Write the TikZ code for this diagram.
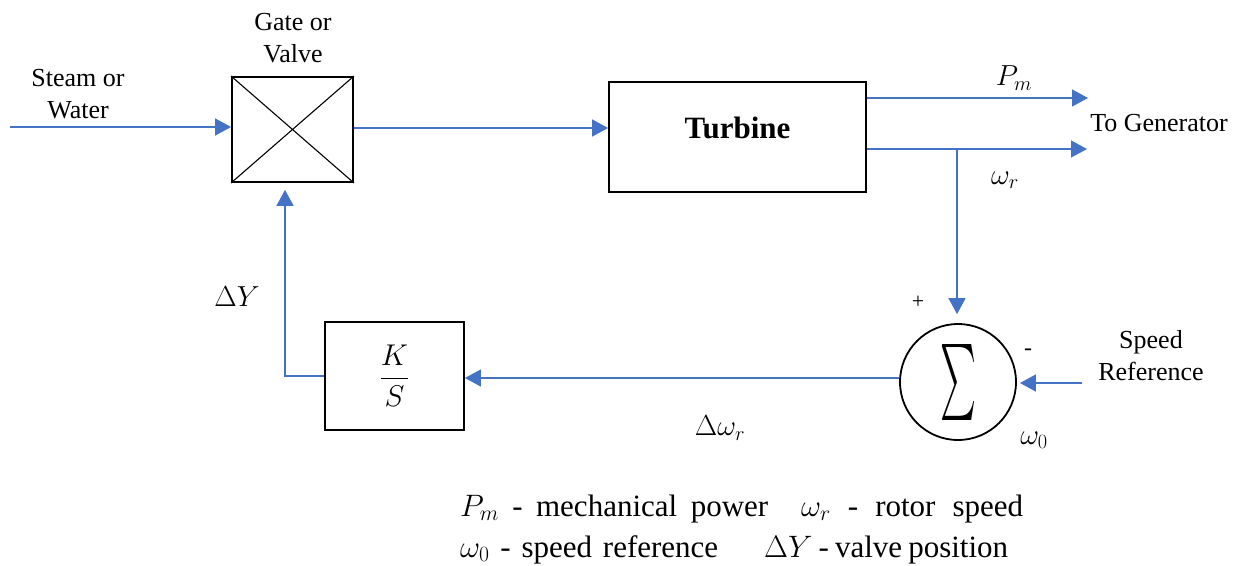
\RequirePackage{fix-cm}
\documentclass[tikz,border=0pt]{standalone}
\usepackage{fontspec}
\setmainfont{Liberation Serif}
\usepackage{graphicx}
\usetikzlibrary{arrows.meta}
\definecolor{lineblue}{HTML}{4472C4}
\begin{document}
\begin{tikzpicture}[x=1pt,y=-1pt,
  blk/.style={draw=black,line width=1.8pt,inner sep=0pt,rectangle},
  conn/.style={draw=lineblue,line width=1.3pt},
  arr/.style={conn,-{Triangle[length=16pt,width=17pt]}},
  lbl/.style={font=\fontsize{26}{32}\selectfont,align=center,inner sep=0pt},
  mlbl/.style={font=\fontsize{29}{32}\selectfont,inner sep=0pt},
  leg/.style={font=\fontsize{31}{38}\selectfont,inner sep=0pt,anchor=base west}]
\useasboundingbox[fill=white] (0,0) rectangle (1246,565);
% blocks
\node[blk,minimum width=121pt,minimum height=105pt] (valve) at (292.5,129.5) {};
\draw[line width=1.1pt] (valve.north west) -- (valve.south east) (valve.north east) -- (valve.south west);
\node[blk,minimum width=257pt,minimum height=110pt] (turb) at (737.5,137) {\raisebox{18pt}{\bfseries\fontsize{31}{36}\selectfont Turbine}};
\node[blk,minimum width=139pt,minimum height=108pt] (ks) at (394.5,376) {\fontsize{30}{34}\selectfont$\displaystyle\frac{K}{S}$};
\node[circle,draw=black,line width=1.8pt,minimum size=116pt,inner sep=0pt] (sum) at (958,382) {\raisebox{-3pt}{\resizebox{36pt}{57pt}{$\sum$}}};
% coordinates
\coordinate (in) at (10,127);
\coordinate (pmE) at (1088,98);
\coordinate (wrE) at (1087,149);
\coordinate (br) at (957,149);
\coordinate (sr) at (1082,383);
\coordinate (c1) at (285,376);
% connectors
\draw[arr] (in) -- (in -| valve.west);
\draw[arr] (valve.east) ++(0,-1.5) coordinate (ve) -- (ve -| turb.west);
\draw[arr] (turb.east |- pmE) -- (pmE);
\draw[arr] (turb.east |- wrE) -- (wrE);
\draw[arr,shorten >=9pt] (br) -- (br |- sum.north);
\draw[arr,shorten >=3pt] (sr) -- (sr -| sum.east);
\draw[arr] (sum.west) ++(0,-4) coordinate (sw) -- (sw -| ks.east);
\draw[arr,shorten >=7pt] (ks.west) -- (c1) -- (c1 |- valve.south);
% labels
\node[lbl] (steam) at (78,94) {Steam or\\Water};
\node[lbl] (gate) at (293,38) {Gate or\\Valve};
\node[lbl] (togen) at (1159,123) {To Generator};
\node[lbl] (sref) at (1151,356) {Speed\\Reference};
\node[mlbl] (pm) at (1014,78) {$P_m$};
\node[mlbl] (wr) at (1005,180) {$\omega_r$};
\node[mlbl] (w0) at (1034,440) {$\omega_0$};
\node[mlbl] (dy) at (237,297) {$\Delta Y$};
\node[mlbl] (dwr) at (720,428) {$\Delta\omega_r$};
\node[font=\fontsize{22}{24}\selectfont,inner sep=0pt] (plus) at (918,302) {+};
\node[font=\fontsize{24}{26}\selectfont,inner sep=0pt] (minus) at (1028,352) {-};
% legend
\node[leg] (l1a) at (460,516) {\makebox[308pt][s]{$P_m$ - mechanical power}};
\node[leg] (l1b) at (801,516) {\makebox[222pt][s]{$\omega_r$ - rotor speed}};
\node[leg] (l2a) at (460,557) {\makebox[258pt][s]{$\omega_0$ - speed reference}};
\node[leg] (l2b) at (764,557) {\makebox[244pt][s]{$\Delta Y$ - valve position}};
\end{tikzpicture}
\end{document}
